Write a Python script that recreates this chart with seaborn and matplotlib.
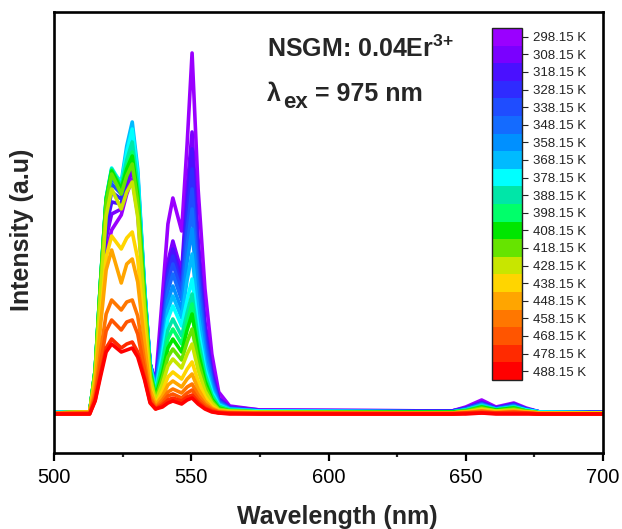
import matplotlib
matplotlib.use("Agg")
import numpy as np
import pandas as pd
import matplotlib.pyplot as plt
import seaborn as sns
from matplotlib.colors import ListedColormap, BoundaryNorm
from matplotlib.cm import ScalarMappable
from matplotlib.ticker import MultipleLocator

# Temperatures (K) and the rainbow colours used for each spectrum / colorbar cell
TEMPS = [298.15 + 10 * k for k in range(20)]
COLORS = ["#9a00ff", "#7a00ff", "#4a10ff", "#2f2bff", "#1f4dff", "#146bff",
          "#0090ff", "#00bbff", "#00ffff", "#00e6a8", "#00ff6a", "#00e600",
          "#66e400", "#c8e600", "#ffd500", "#ffa500", "#ff7700", "#ff5500",
          "#ff2a00", "#ff0000"]

WL_NODES = [500, 513, 515, 517, 519, 521, 524.5, 526.5, 528.5, 530.5, 533, 535,
            537, 539.5, 541.5, 543.3, 546.5, 548.5, 550.3, 552.5, 555, 557.5,
            560, 564, 575, 645, 650, 655.8, 661, 667.5, 672, 677, 700]

# Intensity (a.u.) at each node, one value per temperature (298.15 K -> 488.15 K)
i_500 = [2, 2, 2, 2, 2, 2, 2, 2, 2, 1, 1, 1, 1, 1, 1, 1, 1, 0, 0, 0]
i_513 = [2, 2, 2, 2, 2, 2, 2, 2, 2, 2, 2, 2, 2, 2, 2, 2, 1, 1, 0, 0]
i_515 = [33, 36, 38, 40, 41, 42, 43, 44, 44, 44, 44, 44, 43, 40, 32, 30, 21, 17, 14, 13]
i_517 = [101, 110, 117, 122, 126, 130, 132, 134, 135, 135, 134, 134, 132, 124, 98, 90, 63, 52, 41, 38]
i_519 = [162, 176, 187, 195, 202, 208, 211, 214, 216, 216, 215, 214, 211, 198, 157, 144, 100, 83, 66, 62]
i_521 = [184, 200, 212, 222, 230, 236, 240, 243, 246, 245, 244, 243, 240, 225, 178, 164, 114, 94, 75, 70]
i_524 = [199, 205, 210, 215, 220, 224, 228, 232, 230, 228, 227, 225, 220, 205, 165, 131, 104, 84, 66, 62]
i_526 = [220, 228, 236, 242, 249, 254, 260, 268, 262, 254, 248, 245, 238, 222, 176, 150, 112, 92, 70, 64]
i_528 = [235, 245, 255, 262, 270, 276, 283, 292, 285, 272, 262, 258, 250, 232, 182, 155, 114, 94, 72, 66]
i_530 = [200, 208, 216, 222, 228, 233, 238, 245, 240, 230, 222, 218, 212, 197, 155, 132, 98, 80, 62, 57]
i_533 = [110, 115, 118, 120, 122, 124, 125, 126, 124, 120, 116, 114, 110, 102, 82, 70, 52, 44, 36, 34]
i_535 = [50, 50, 50, 50, 50, 50, 50, 50, 48, 46, 44, 42, 40, 36, 28, 24, 18, 15, 12, 11]
i_537 = [32, 30, 29, 28, 27, 26, 25, 24, 22, 20, 18, 17, 15, 13, 10, 9, 7, 6, 5, 5]
i_539 = [118, 95, 90, 86, 82, 77, 70, 65, 59, 52, 47, 41, 36, 30, 23, 18, 14, 11, 9, 7]
i_541 = [190, 152, 145, 139, 132, 123, 113, 104, 95, 84, 75, 66, 57, 48, 37, 29, 22, 18, 14, 11]
i_543 = [216, 173, 165, 158, 150, 140, 128, 118, 108, 95, 85, 75, 65, 55, 42, 33, 25, 20, 16, 13]
i_546 = [183, 142, 135, 128, 122, 114, 104, 96, 88, 78, 70, 62, 54, 46, 35, 27, 21, 16, 13, 10]
i_548 = [270, 225, 212, 198, 184, 168, 152, 134, 114, 101, 92, 84, 72, 60, 45, 35, 27, 21, 17, 14]
i_550 = [361, 282, 265, 245, 225, 205, 185, 160, 135, 120, 110, 100, 85, 70, 52, 40, 30, 24, 19, 16]
i_552 = [225, 175, 164, 152, 140, 127, 115, 100, 85, 75, 68, 62, 53, 44, 33, 25, 19, 15, 12, 10]
i_555 = [125, 92, 86, 80, 73, 66, 60, 52, 45, 40, 36, 33, 28, 23, 17, 13, 10, 8, 6, 5]
i_557 = [60, 44, 41, 38, 35, 32, 29, 25, 22, 19, 17, 15, 13, 11, 8, 6, 5, 4, 3, 2]
i_560 = [22, 16, 15, 14, 13, 12, 11, 10, 9, 8, 7, 6, 5, 4, 3, 3, 2, 2, 1, 1]
i_564 = [8, 7, 6, 6, 6, 5, 5, 5, 4, 4, 4, 3, 3, 3, 2, 2, 1, 1, 1, 0]
i_575 = [4, 4, 3, 3, 3, 3, 3, 3, 3, 2, 2, 2, 2, 2, 1, 1, 1, 1, 0, 0]
i_645 = [3, 3, 3, 3, 2, 2, 2, 2, 2, 2, 2, 2, 1, 1, 1, 1, 1, 0, 0, 0]
i_650 = [7, 6, 6, 5, 5, 5, 4, 4, 4, 4, 3, 3, 3, 2, 2, 2, 1, 1, 1, 0]
i_656 = [14, 12, 11, 11, 10, 10, 9, 9, 8, 8, 7, 7, 6, 5, 4, 3, 3, 2, 1, 1]
i_661 = [7, 6, 6, 6, 5, 5, 5, 5, 4, 4, 4, 4, 3, 3, 2, 2, 1, 1, 1, 0]
i_667 = [11, 10, 10, 9, 9, 8, 8, 7, 7, 7, 6, 6, 5, 4, 3, 3, 2, 2, 1, 0]
i_672 = [6, 5, 5, 5, 5, 4, 4, 4, 4, 3, 3, 3, 3, 2, 2, 2, 1, 1, 1, 0]
i_677 = [2, 2, 2, 2, 2, 2, 2, 2, 2, 1, 1, 1, 1, 1, 1, 1, 0, 0, 0, 0]
i_700 = [2, 2, 2, 2, 2, 1, 1, 1, 1, 1, 1, 1, 1, 1, 1, 0, 0, 0, 0, 0]

NODE_VALUES = [i_500, i_513, i_515, i_517, i_519, i_521, i_524, i_526, i_528,
               i_530, i_533, i_535, i_537, i_539, i_541, i_543, i_546, i_548,
               i_550, i_552, i_555, i_557, i_560, i_564, i_575, i_645, i_650,
               i_656, i_661, i_667, i_672, i_677, i_700]

LABELS = [f"{t:.2f} K" for t in TEMPS]

sns.set_style("ticks")
plt.rcParams["font.family"] = ["Liberation Sans", "DejaVu Sans"]
plt.rcParams["mathtext.fontset"] = "custom"
plt.rcParams["mathtext.rm"] = "Liberation Sans"
plt.rcParams["mathtext.bf"] = "Liberation Sans:bold"

mat = np.array(NODE_VALUES, dtype=float)  # nodes x temperatures
rows = []
for j, lab in enumerate(LABELS):
    for w, v in zip(WL_NODES, mat[:, j]):
        rows.append((w, v, lab))
df = pd.DataFrame(rows, columns=["wavelength", "intensity", "T"])

W, H = 622, 529
fig = plt.figure(figsize=(W / 100, H / 100), dpi=100)
ax = fig.add_axes([54 / W, 1 - 453 / H, 549 / W, 441 / H])

sns.lineplot(data=df, x="wavelength", y="intensity", hue="T", hue_order=LABELS,
             palette=COLORS, estimator=None, sort=True, lw=2.6, legend=False, ax=ax)

ax.set_xlim(500, 700)
ax.set_ylim(-39, 402)
ax.set_yticks([])
ax.xaxis.set_major_locator(MultipleLocator(50))
ax.xaxis.set_minor_locator(MultipleLocator(25))
ax.tick_params(axis="x", which="major", direction="out", length=5.5, width=1.6,
               labelsize=14.5, pad=5.5, colors="black")
ax.tick_params(axis="x", which="minor", direction="out", length=3.2, width=1.6)
for sp in ax.spines.values():
    sp.set_linewidth(1.9)
    sp.set_color("black")
    sp.set_visible(True)

ax.set_xlabel("Wavelength (nm)", fontsize=18, fontweight="bold")
ax.set_ylabel("Intensity (a.u)", fontsize=18, fontweight="bold")
ax.xaxis.set_label_coords((337 - 54) / 549, -0.118)
ax.yaxis.set_label_coords(-0.036, 0.505)

# annotation texts
def fx(px):
    return (px - 54) / 549

def fy(py):
    return (453 - py) / 441

ax.text(fx(267), fy(57), r"NSGM: 0.04Er$^{\mathbf{3}{\mathbf{+}}}$", transform=ax.transAxes,
        fontsize=18, fontweight="bold", ha="left", va="baseline")
ax.text(fx(267), fy(101), "λ", transform=ax.transAxes,
        fontsize=18, fontweight="bold", ha="left", va="baseline")
ax.text(fx(283), fy(108), "ex", transform=ax.transAxes,
        fontsize=16, fontweight="bold", ha="left", va="baseline")
ax.text(fx(315), fy(101), "= 975 nm", transform=ax.transAxes,
        fontsize=18, fontweight="bold", ha="left", va="baseline")

# discrete temperature colorbar
cax = fig.add_axes([491.5 / W, 1 - 380 / H, 30 / W, 352 / H])
sm = ScalarMappable(norm=BoundaryNorm(np.arange(21), 20), cmap=ListedColormap(COLORS))
cbar = fig.colorbar(sm, cax=cax, ticks=np.arange(20) + 0.5)
cbar.ax.set_yticklabels(LABELS)
cbar.ax.invert_yaxis()
cbar.outline.set_linewidth(1.0)
cbar.outline.set_edgecolor("#222222")
cbar.ax.tick_params(length=4, width=0.8, labelsize=9.5, pad=4,
                    colors="#222222", right=True)
cbar.ax.minorticks_off()

fig.savefig("out.png", dpi=100, facecolor="white")
